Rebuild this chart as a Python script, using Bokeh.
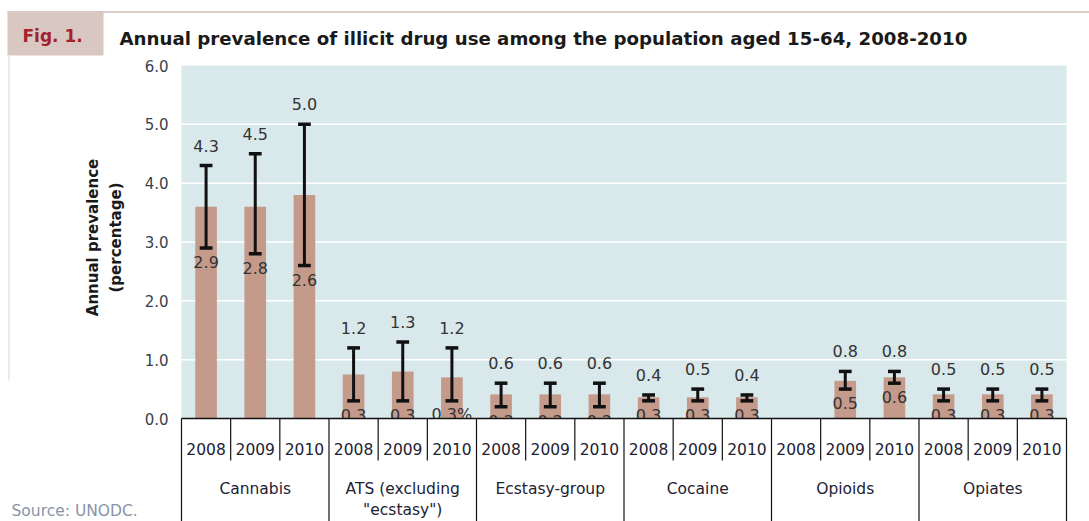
import math

from bokeh.core.properties import value
from bokeh.embed import file_html
from bokeh.models import ColumnDataSource, Range1d
from bokeh.plotting import figure
from bokeh.resources import INLINE

# ---- data -----------------------------------------------------------------
groups = ["Cannabis", 'ATS (excluding\n"ecstasy")', "Ecstasy-group",
          "Cocaine", "Opioids", "Opiates"]
years = ["2008", "2009", "2010"]

# best estimate (bar), lower and upper bound (error bar), per group x year
best = [3.6, 3.6, 3.8,
        0.75, 0.8, 0.7,
        0.41, 0.41, 0.41,
        0.36, 0.36, 0.36,
        math.nan, 0.64, 0.70,
        0.41, 0.41, 0.41]
low = [2.9, 2.8, 2.6,
       0.3, 0.3, 0.3,
       0.2, 0.2, 0.2,
       0.3, 0.3, 0.3,
       math.nan, 0.5, 0.6,
       0.3, 0.3, 0.3]
high = [4.3, 4.5, 5.0,
        1.2, 1.3, 1.2,
        0.6, 0.6, 0.6,
        0.4, 0.5, 0.4,
        math.nan, 0.8, 0.8,
        0.5, 0.5, 0.5]
low_suffix = {5: "%"}

y_ticks = [0, 1, 2, 3, 4, 5, 6]

title = "Annual prevalence of illicit drug use among the population aged 15-64, 2008-2010"
fig_label = "Fig. 1."
y_label = ["Annual prevalence", "(percentage)"]
source_note = "Source: UNODC."

# ---- canvas geometry --------------------------------------------------------
W, H = 1089, 521
LEFT, RIGHT = 181, 1066      # plot area, pixels
TOP, BASE = 65, 418          # pixel rows of y = 6 and y = 0
N = len(groups) * len(years)
SX = (RIGHT - LEFT) / N
SY = (BASE - TOP) / y_ticks[-1]


def dx(px):
    return (px - LEFT) / SX


def dy(py):
    return (BASE - py) / SY


p = figure(width=W, height=H, output_backend="svg", toolbar_location=None,
           x_axis_type=None, y_axis_type=None,
           x_range=Range1d(dx(0), dx(W)), y_range=Range1d(dy(H), dy(0)),
           min_border=0)
p.outline_line_color = None
p.grid.visible = False
p.background_fill_color = "white"
p.border_fill_color = "white"

FONT = value("DejaVu Sans")

# header strip
p.segment(x0=[dx(7)], y0=[dy(11.5)], x1=[dx(W)], y1=[dy(11.5)],
          line_color="#d9cbc7", line_width=2)
p.quad(left=[dx(7)], right=[dx(103)], top=[dy(11)], bottom=[dy(55)],
       fill_color="#d9c7c1", line_color=None)
p.segment(x0=[dx(8.5)], y0=[dy(55)], x1=[dx(8.5)], y1=[dy(380)],
          line_color="#eee8e6", line_width=2)
p.text(x=[dx(22)], y=[dy(35)], text=[fig_label], text_font=FONT,
       text_font_style="bold", text_font_size="17px", text_color="#a3232d",
       text_baseline="alphabetic")
p.text(x=[dx(119)], y=[dy(37.5)], text=[title], text_font=FONT,
       text_font_style="bold", text_font_size="18.2px", text_color="#1a1a1a",
       text_baseline="alphabetic")

# plot background and grid
p.quad(left=[0], right=[N], bottom=[0], top=[y_ticks[-1]],
       fill_color="#d9e8ea", line_color=None)
p.segment(x0=[0] * (len(y_ticks) - 2), x1=[N] * (len(y_ticks) - 2),
          y0=y_ticks[1:-1], y1=y_ticks[1:-1], line_color="white", line_width=1.5)

# bars and error bars
xs = [i + 0.5 for i in range(N)]
ok = [i for i in range(N) if not math.isnan(best[i])]
bars = ColumnDataSource(dict(x=[xs[i] for i in ok], top=[best[i] for i in ok]))
p.vbar(x="x", top="top", bottom=0, width=0.44, source=bars,
       fill_color="#c49a8a", line_color=None)

err = ColumnDataSource(dict(
    x=[xs[i] for i in ok],
    l=[xs[i] - 0.13 for i in ok],
    r=[xs[i] + 0.13 for i in ok],
    lo=[low[i] for i in ok],
    hi=[high[i] for i in ok],
    lo_txt=[f"{low[i]:.1f}" + low_suffix.get(i, "") for i in ok],
    hi_txt=[f"{high[i]:.1f}" for i in ok],
))
p.segment(x0="x", x1="x", y0="lo", y1="hi", source=err,
          line_color="#111111", line_width=3)
p.segment(x0="l", x1="r", y0="hi", y1="hi", source=err,
          line_color="#111111", line_width=3.5)
p.segment(x0="l", x1="r", y0="lo", y1="lo", source=err,
          line_color="#111111", line_width=3.5)
p.text(x="x", y="hi", text="hi_txt", source=err, y_offset=-20,
       text_font=FONT, text_font_size="16px", text_color="#333333",
       text_align="center", text_baseline="middle")
p.text(x="x", y="lo", text="lo_txt", source=err, y_offset=14,
       text_font=FONT, text_font_size="16px", text_color="#333333",
       text_align="center", text_baseline="middle")

# category table under the axis (also hides label overflow below zero)
p.quad(left=[0], right=[N], top=[0], bottom=[dy(H)],
       fill_color="white", line_color=None)
p.segment(x0=[0], x1=[N], y0=[0], y1=[0], line_color="#111111", line_width=1.5)
bounds = list(range(N + 1))
major = [b for b in bounds if b % len(years) == 0]
minor = [b for b in bounds if b % len(years) != 0]
p.segment(x0=major, x1=major, y0=[0] * len(major), y1=[dy(H)] * len(major),
          line_color="#111111", line_width=1.2)
p.segment(x0=minor, x1=minor, y0=[0] * len(minor), y1=[dy(460)] * len(minor),
          line_color="#111111", line_width=1.2)

p.text(x=xs, y=[dy(448)] * N, text=years * len(groups), text_font=FONT,
       text_font_size="15.5px", text_color="#222233",
       text_align="center", text_baseline="middle")

gx, gy, gt = [], [], []
for g, name in enumerate(groups):
    for k, line in enumerate(name.split("\n")):
        gx.append(g * len(years) + len(years) / 2)
        gy.append(dy(488 + 21 * k))
        gt.append(line)
p.text(x=gx, y=gy, text=gt, text_font=FONT, text_font_size="15.5px",
       text_color="#222233", text_align="center", text_baseline="middle")

# y tick labels and axis title
p.text(x=[dx(168)] * len(y_ticks), y=y_ticks,
       text=[f"{t:.1f}" for t in y_ticks], text_font=FONT,
       text_font_size="15px", text_color="#38424e",
       text_align="right", text_baseline="middle")
p.text(x=[dx(92), dx(115)], y=[dy(237), dy(237)], text=y_label,
       angle=math.pi / 2, text_font=FONT, text_font_style="bold",
       text_font_size="15px", text_color="#1a1a1a",
       text_align="center", text_baseline="middle")

p.text(x=[dx(11)], y=[dy(510)], text=[source_note], text_font=FONT,
       text_font_size="15.5px", text_color="#8a93a8",
       text_align="left", text_baseline="middle")

open("out.html", "w").write(file_html(p, INLINE))
